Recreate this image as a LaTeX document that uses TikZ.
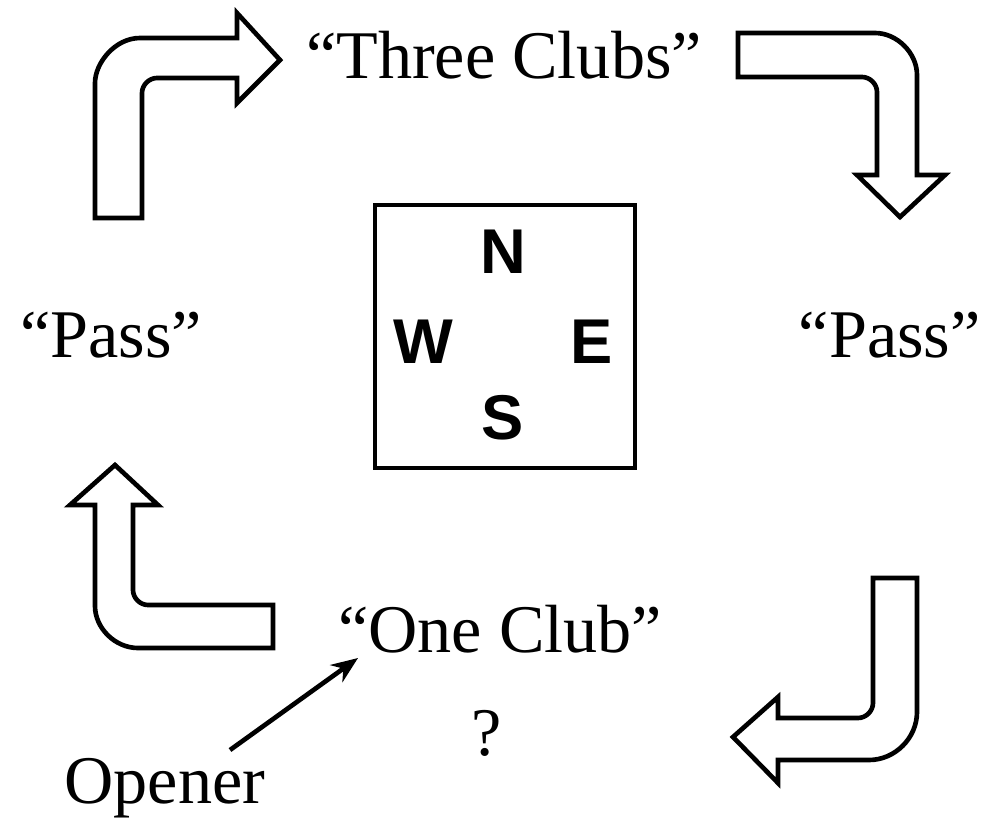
\documentclass[tikz,border=0pt]{standalone}
\usepackage{fontspec}
\setmainfont{Liberation Serif}
\newfontfamily\lettersans{Liberation Sans}
\usetikzlibrary{arrows.meta}
\begin{document}
\begin{tikzpicture}[x=0.025cm, y=-0.025cm,
  bigarrow/.style={draw=black, line width=3.3pt, line join=miter, fill=white},
  bidtext/.style={inner sep=0pt, anchor=base, font=\fontsize{48.5}{50}\selectfont},
  compass/.style={inner sep=0pt, anchor=base, font=\lettersans\bfseries\fontsize{45}{48}\selectfont},
  pointer/.style={line width=3.3pt, -{Stealth[length=19pt, width=15pt]}}]
\useasboundingbox (0,0) rectangle (983,822);

% texts
\node[bidtext] (three) at (504,78) {“Three Clubs”};
\node[bidtext] (passW) at (111,357) {“Pass”};
\node[bidtext, anchor=base east] (passE) at (981,357) {“Pass”};
\node[bidtext] (one) at (500,652) {“One Club”};
\node[bidtext] (q) at (487,755) {?};
\node[bidtext] (opener) at (165,803) {Opener};

% compass box
\draw[line width=3.3pt] (375,205) rectangle (635,468);
\node[compass] (N) at (503,273) {N};
\node[compass] (W) at (423,363) {W};
\node[compass] (E) at (592,363) {E};
\node[compass] (S) at (503,439) {S};

% top-left arrow (up, then right)
\draw[bigarrow] (95,218) -- (95,83) .. controls (95,63) and (115,38) .. (140,38) -- (237,38)
  -- (237,13) -- (280,60) -- (237,103) -- (237,78) -- (157,78)
  .. controls (149,78) and (142,85) .. (142,93) -- (142,218) -- cycle;

% top-right arrow (right, then down)
\draw[bigarrow] (738,33) -- (875,33) .. controls (897,33) and (917,53) .. (917,75) -- (917,175)
  -- (945,175) -- (900,217) -- (857,175) -- (877,175) -- (877,92)
  .. controls (877,84) and (870,77) .. (862,77) -- (738,77) -- cycle;

% bottom-right arrow (down, then left)
\draw[bigarrow] (873,578) -- (917,578) -- (917,712) .. controls (917,738) and (895,760) .. (869,760)
  -- (778,760) -- (778,783) -- (733,737) -- (778,697) -- (778,718) -- (858,718)
  .. controls (866,718) and (873,711) .. (873,703) -- cycle;

% bottom-left arrow (left, then up)
\draw[bigarrow] (115,465) -- (158,505) -- (133,505) -- (133,590)
  .. controls (133,598) and (140,605) .. (148,605) -- (273,605) -- (273,648) -- (138,648)
  .. controls (115,648) and (95,628) .. (95,606) -- (95,505) -- (70,505) -- cycle;

% opener pointer
\coordinate (optail) at (230,750);
\coordinate (ophead) at (358,658);
\draw[pointer] (optail) -- (ophead);
\end{tikzpicture}
\end{document}
